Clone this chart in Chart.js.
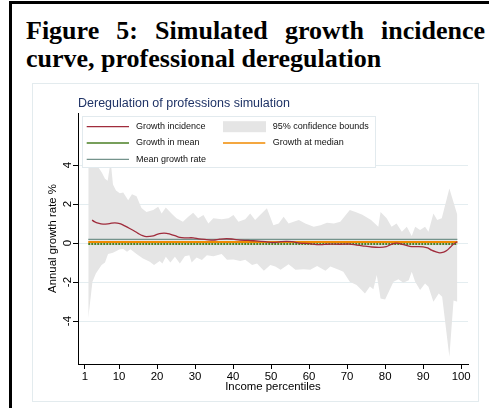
<!DOCTYPE html>
<html>
<head>
<meta charset="utf-8">
<title>Figure 5: Simulated growth incidence curve, professional deregulation</title>
<script src="https://cdn.jsdelivr.net/npm/chart.js@4.4.0/dist/chart.umd.min.js"></script>
<style>
  body { margin: 0; background: #fff; width: 489px; height: 408px; overflow: hidden; position: relative; }
  #frame { position: absolute; left: 9px; top: 1px; width: 500px; height: 430px; border-top: 3px solid #000; border-left: 3px solid #000; }
  #figTitle { position: absolute; left: 26px; top: 16.5px; width: 459px; font: bold 26px/28px "Liberation Serif", "Times New Roman", serif; text-align: justify; color: #000; }
  #panel { position: absolute; left: 32px; top: 83px; width: 447px; height: 319px; border: 1px solid #e3ebee; box-sizing: border-box; }
  #chart { position: absolute; left: 33px; top: 84px; }
</style>
</head>
<body>
<div id="frame"></div>
<div id="figTitle">Figure 5: Simulated growth incidence curve, professional deregulation</div>
<div id="panel"></div>
<canvas id="chart" width="445" height="318"></canvas>
<script>
// 95% confidence bounds (percentile, value)
const ciUpperX = [1.9, 3, 4.5, 5.5, 6.3, 7, 7.8, 8.4, 9.2, 10.2, 11.1, 12.4, 13.4, 14.6, 15.9, 17.2, 19, 20.3, 21.2, 22.3, 23.8, 25.1, 26.8, 28.2, 29.5, 30.8, 32.2, 33.5, 34.8, 37, 38.8, 40.1, 41.4, 43.2, 44.5, 45.8, 47.1, 48.9, 50.6, 52, 53.3, 54.6, 55.9, 57.3, 59, 61.2, 63, 64.7, 66.5, 68.2, 70.7, 72.2, 74, 76.3, 78.2, 78.8, 80.4, 81.7, 83, 84.4, 85.7, 87, 87.9, 89.2, 90.5, 91.4, 92.7, 93.7, 94.9, 96.9, 99];
const ciUpperY = [5.5, 5.0, 3.9, 3.6, 3.3, 3.2, 4.2, 3.0, 2.7, 2.55, 2.6, 2.2, 2.5, 2.4, 1.8, 1.6, 1.7, 1.86, 1.52, 1.82, 1.52, 1.27, 1.1, 1.35, 1.56, 1.27, 1.44, 1.0, 1.27, 1.22, 1.27, 1.44, 1.1, 1.22, 1.52, 1.18, 1.44, 1.78, 0.92, 1.0, 1.35, 1.0, 1.1, 1.18, 1.0, 0.84, 0.92, 1.04, 1.0, 1.1, 1.69, 1.6, 1.45, 1.18, 0.84, 1.6, 1.27, 0.84, 1.0, 0.58, 0.84, 0.36, 0.84, 0.67, 0.84, 0.58, 1.52, 1.18, 1.27, 2.8, 1.44];
const ciLowerX = [1.9, 3, 3.9, 5.4, 6.3, 7.1, 8.4, 10.2, 11.1, 12.1, 13, 14.6, 16.3, 18.1, 19.2, 20.7, 21.4, 22.3, 23.5, 24.7, 26, 27.3, 28.5, 29.1, 30.4, 31.8, 33.1, 34.8, 37, 38.4, 40.1, 41.9, 43.2, 45, 46.3, 48.1, 49.8, 51.1, 52.5, 54.6, 56.4, 58.6, 60.3, 62.1, 64.3, 65.6, 67.8, 69, 70.7, 72.5, 74.7, 76, 76.9, 77.8, 78.8, 80, 82.2, 83.5, 84.8, 86.2, 87, 87.9, 89.2, 90.5, 91.4, 92.7, 94.1, 95, 96.9, 98, 99];
const ciLowerY = [-3.86, -1.98, -1.56, -1.13, -1.0, -0.56, -0.5, -0.32, -0.3, -0.44, -0.32, -0.56, -0.79, -0.96, -1.13, -0.92, -1.05, -0.7, -1.0, -0.7, -1.05, -0.67, -0.62, -1.0, -0.74, -0.87, -0.62, -0.67, -0.56, -0.85, -0.84, -0.92, -0.85, -1.13, -1.05, -1.42, -1.13, -1.2, -1.37, -1.08, -1.37, -1.34, -1.37, -1.17, -1.42, -1.2, -1.37, -1.47, -1.98, -2.15, -2.58, -2.23, -2.37, -1.64, -2.84, -2.89, -1.98, -1.86, -2.03, -1.9, -1.47, -1.98, -2.41, -2.07, -2.24, -3.01, -2.58, -2.75, -5.83, -2.94, -3.01];

// growth incidence curve
const gicX = [2.9, 3.5, 4.5, 5.8, 7.5, 8.9, 10.2, 11.5, 12.8, 14, 15, 16.2, 17.2, 19, 20, 21.2, 22.5, 23.4, 24.7, 26, 27.5, 29.5, 31, 33, 34.8, 36.5, 38.3, 40, 41.8, 44, 46, 48.5, 50.6, 52.5, 54, 55.5, 57.5, 60, 62, 64, 65.5, 68, 70.7, 72.5, 74, 76.5, 78.6, 80.3, 81.5, 83, 84.5, 86.5, 88, 90, 91.2, 92.2, 93.4, 94.4, 95.4, 96.2, 97.2, 98, 99];
const gicY = [1.18, 1.1, 1.02, 0.97, 1.0, 1.04, 1.0, 0.88, 0.75, 0.62, 0.5, 0.38, 0.33, 0.37, 0.45, 0.5, 0.5, 0.46, 0.38, 0.29, 0.27, 0.27, 0.22, 0.18, 0.15, 0.2, 0.23, 0.2, 0.15, 0.14, 0.11, 0.07, 0.03, 0.07, 0.09, 0.07, 0.0, -0.03, -0.08, -0.07, -0.05, -0.06, -0.05, -0.1, -0.14, -0.2, -0.22, -0.18, -0.08, 0.0, -0.06, -0.17, -0.18, -0.19, -0.25, -0.36, -0.45, -0.5, -0.46, -0.38, -0.2, -0.05, 0.07];

// reference lines
const lineSpan = [1.9, 99];
const meanGrowthRate = 0.19;
const growthInMean = -0.05;
const growthAtMedian = 0.05;

const xTicks = [1, 10, 20, 30, 40, 50, 60, 70, 80, 90, 100];
const yTicks = [-4, -2, 0, 2, 4];

const toPoints = (xs, ys) => xs.map((x, i) => ({ x: x, y: ys[i] }));
const flat = (v) => lineSpan.map((x) => ({ x: x, y: v }));

const ciGrey = "#e5e5e5";

// legend drawn inside the plot region as a 2-column grid
const legendItems = [
  { ds: 0, col: 0, row: 0 },
  { ds: 2, col: 1, row: 0, box: true },
  { ds: 4, col: 0, row: 1 },
  { ds: 5, col: 1, row: 1 },
  { ds: 6, col: 0, row: 2 },
];

const stataLegend = {
  id: "stataLegend",
  afterDatasetsDraw(chart) {
    const ctx = chart.ctx;
    const area = chart.chartArea;
    const left = area.left + 4;
    const top = area.top + 3;
    const w = 294;
    const h = 52;
    ctx.save();
    ctx.fillStyle = "#fff";
    ctx.fillRect(left, top, w, h);
    ctx.strokeStyle = "#e2eaee";
    ctx.lineWidth = 1;
    ctx.strokeRect(left + 0.5, top + 0.5, w - 1, h - 1);
    ctx.font = '9px "Liberation Sans", Arial, sans-serif';
    ctx.textBaseline = "middle";
    legendItems.forEach((item) => {
      const ds = chart.data.datasets[item.ds];
      const y = top + 10.7 + item.row * 16.3;
      const sx = left + (item.col === 0 ? 4.7 : 141);
      const tx = left + (item.col === 0 ? 54 : 190.7);
      if (item.box) {
        ctx.fillStyle = ds.backgroundColor;
        ctx.fillRect(sx, y - 5.5, 43, 11);
      } else {
        ctx.strokeStyle = ds.borderColor;
        ctx.lineWidth = 1.3;
        ctx.beginPath();
        ctx.moveTo(sx, y);
        ctx.lineTo(sx + 42.3, y);
        ctx.stroke();
      }
      ctx.fillStyle = "#111";
      ctx.fillText(ds.label, tx, y);
    });
    ctx.restore();
  },
};

Chart.defaults.font.family = '"Liberation Sans", Arial, sans-serif';
Chart.defaults.color = "#000";

const chart = new Chart(document.getElementById("chart").getContext("2d"), {
  type: "line",
  data: {
    datasets: [
      {
        label: "Growth incidence",
        data: toPoints(gicX, gicY),
        borderColor: "#a02c3c",
        borderWidth: 1.3,
        tension: 0.35,
        pointRadius: 0,
        fill: false,
        order: 1,
      },
      {
        label: "",
        data: toPoints(ciUpperX, ciUpperY),
        borderWidth: 0,
        borderColor: ciGrey,
        backgroundColor: ciGrey,
        pointRadius: 0,
        fill: "origin",
        order: 10,
      },
      {
        label: "95% confidence bounds",
        data: toPoints(ciLowerX, ciLowerY),
        borderWidth: 0,
        borderColor: ciGrey,
        backgroundColor: ciGrey,
        pointRadius: 0,
        fill: "origin",
        order: 10,
      },
      { label: "", data: [], hidden: true },
      {
        label: "Growth in mean",
        data: flat(growthInMean),
        borderColor: "#4a7f24",
        borderWidth: 2,
        borderDash: [2, 1],
        pointRadius: 0,
        fill: false,
        order: 4,
      },
      {
        label: "Growth at median",
        data: flat(growthAtMedian),
        borderColor: "#f08a00",
        borderWidth: 2,
        pointRadius: 0,
        fill: false,
        order: 3,
      },
      {
        label: "Mean growth rate",
        data: flat(meanGrowthRate),
        borderColor: "#74938c",
        borderWidth: 1.2,
        pointRadius: 0,
        fill: false,
        order: 5,
      },
    ],
  },
  options: {
    responsive: false,
    animation: false,
    devicePixelRatio: 1,
    layout: { padding: { left: 0, right: 10, top: 0, bottom: 0 } },
    plugins: {
      legend: { display: false },
      tooltip: { enabled: false },
      title: {
        display: true,
        text: "Deregulation of professions simulation",
        align: "start",
        fullSize: false,
        color: "#1f3366",
        font: { size: 12.5, weight: "normal" },
        padding: { top: 12.5, bottom: 1.5 },
      },
    },
    scales: {
      x: {
        type: "linear",
        min: -0.8,
        max: 101.8,
        afterBuildTicks: (s) => {
          s.ticks = xTicks.map((v) => ({ value: v }));
        },
        afterFit: (s) => {
          s.height = 38;
        },
        ticks: { autoSkip: false, maxRotation: 0, padding: 1, font: { size: 11.4 }, color: "#000" },
        grid: { drawOnChartArea: false, tickColor: "#000", tickLength: 5 },
        border: { color: "#000", width: 1 },
        title: {
          display: true,
          text: "Income percentiles",
          color: "#000",
          font: { size: 11.4 },
          padding: { top: 0, bottom: 8 },
        },
      },
      y: {
        type: "linear",
        min: -6.2,
        max: 6.67,
        afterBuildTicks: (s) => {
          s.ticks = yTicks.map((v) => ({ value: v }));
        },
        afterFit: (s) => {
          s.width = 45;
        },
        ticks: {
          minRotation: 90,
          maxRotation: 90,
          crossAlign: "center",
          padding: 0,
          font: { size: 11.4 },
          color: "#000",
        },
        grid: { color: "#e4edf0", tickColor: "#000", tickLength: 5 },
        border: { color: "#000", width: 1 },
        title: {
          display: true,
          text: "Annual growth rate %",
          color: "#000",
          font: { size: 11.4 },
          padding: { top: 13, bottom: 0 },
        },
      },
    },
  },
  plugins: [stataLegend],
});
</script>
</body>
</html>
